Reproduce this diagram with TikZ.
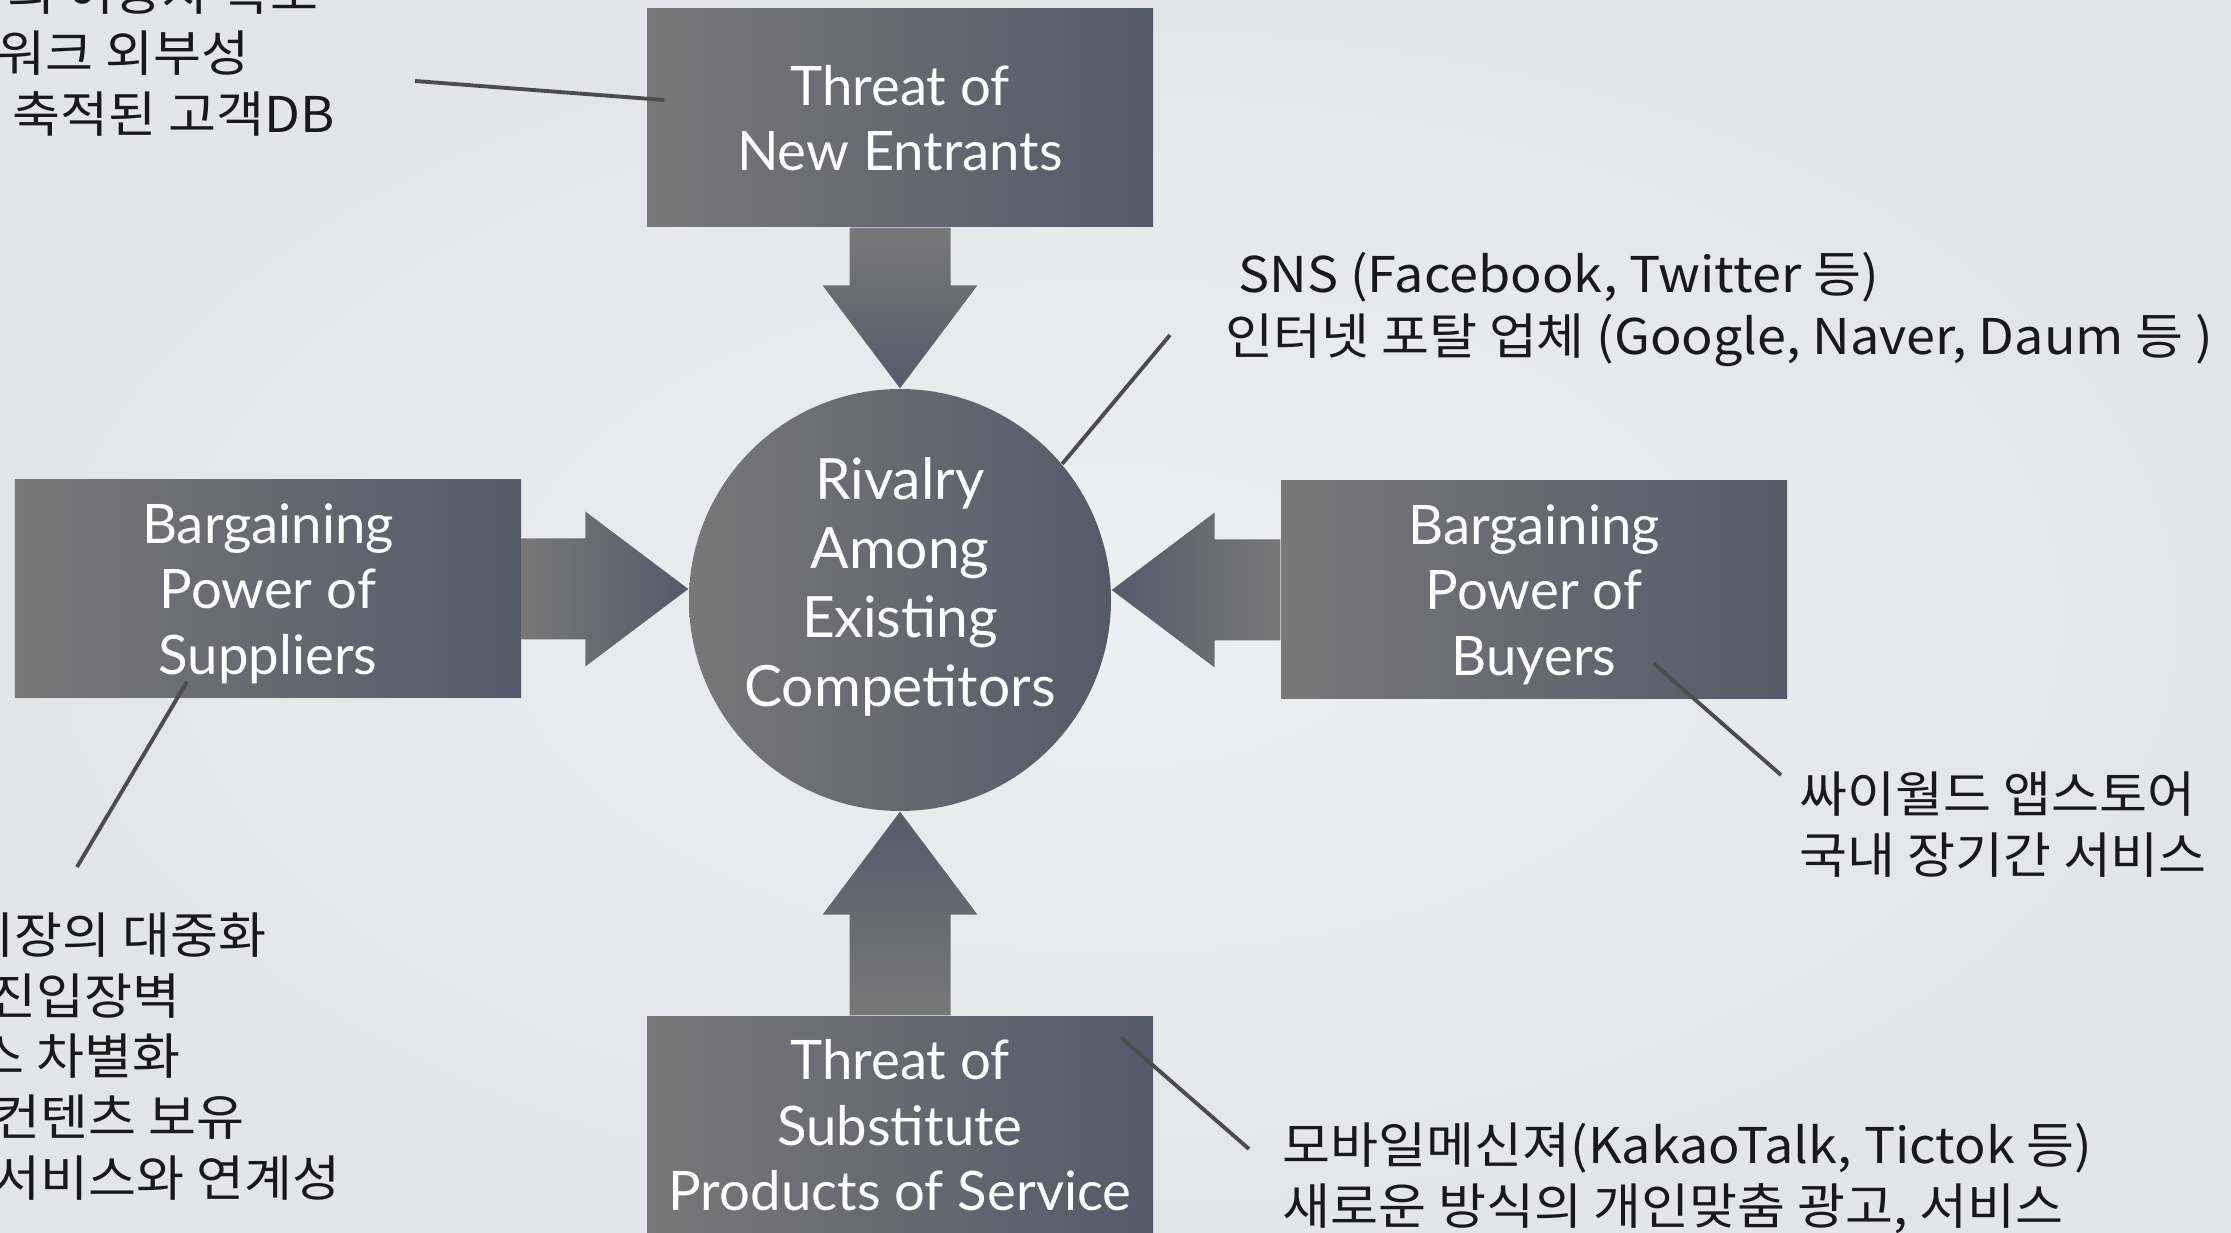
\documentclass[tikz,border=0pt]{standalone}
\usepackage{fontspec}
\setmainfont{Lato}
\newfontfamily\kofont[FakeStretch=1.06]{Noto Sans CJK KR}
\usepackage{tikz}
\usetikzlibrary{calc, positioning}

\definecolor{bgin}{HTML}{EEEFF2}
\definecolor{bgout}{HTML}{E3E5E9}
\definecolor{slatelight}{HTML}{787878}
\definecolor{slatedark}{HTML}{565969}
\definecolor{calloutgray}{HTML}{4C4C4C}

\begin{document}
\begin{tikzpicture}[
        % STYLES
        force/.style={rectangle, left color=slatelight, right color=slatedark, minimum width=5.06cm, minimum height=2.18cm, inner sep=0pt, align=center, text=white, text depth=0pt, font=\fontsize{15.5}{18.6}\selectfont},
        rivalry/.style={circle, left color=slatelight, right color=slatedark, minimum size=4.22cm, inner sep=0pt},
        rivalrytext/.style={inner sep=0pt, align=center, text=white, font=\fontsize{16.2}{19.6}\selectfont},
        note/.style={inner sep=0pt, align=left, text=black!90, font=\kofont\fontsize{14}{17.4}\selectfont},
        % ARROWS
        % Flèche pleine : tige 1.01cm, pointe 1.55cm x 1.03cm
        blockarrow/.style={to path={
            ($(\tikztostart)!0.505cm!90:(\tikztotarget)$)
            -- ($(\tikztotarget)!1.03cm!(\tikztostart)!0.505cm!90:(\tikztotarget)$)
            -- ($(\tikztotarget)!1.03cm!(\tikztostart)!0.775cm!90:(\tikztotarget)$)
            -- (\tikztotarget)
            -- ($(\tikztotarget)!1.03cm!(\tikztostart)!0.775cm!-90:(\tikztotarget)$)
            -- ($(\tikztotarget)!1.03cm!(\tikztostart)!0.505cm!-90:(\tikztotarget)$)
            -- ($(\tikztostart)!0.505cm!-90:(\tikztotarget)$) -- cycle}},
        callout/.style={calloutgray, line width=1.1pt}
    ]

    % --- Canvas ---
    \useasboundingbox (0,0) rectangle (22.31,12.32);
    \clip (0,0) rectangle (22.31,12.32);
    \shade[inner color=bgin, outer color=bgout] (0,0) rectangle (22.31,12.32);

    % ===================================
    % 1. Five Forces
    % ===================================
    \node[rivalry] (rival) at (9.00, 6.32) {};
    \node[rivalrytext] (rivaltext) at (9.00, 6.45) {Rivalry\\Among\\Existing\\Competitors};

    \node[force] (entrants) at (9.00, 11.14) {Threat of\\New Entrants};
    \node[force] (suppliers) at (2.68, 6.43) {Bargaining\\Power of\\Suppliers};
    \node[force] (buyers) at (15.34, 6.42) {Bargaining\\Power of\\Buyers};
    \node[force] (subst) at (9.00, 1.07) {Threat of\\Substitute\\Products of Service};

    % --- Arrow tips on the circle ---
    \coordinate (tipL) at (suppliers.east -| rival.west);
    \coordinate (tipR) at (buyers.west -| rival.east);

    % Flèches vers la rivalité
    \path[top color=slatelight, bottom color=slatedark] (entrants.south) to[blockarrow] (rival.north);
    \path[left color=slatelight, right color=slatedark] (suppliers.east) to[blockarrow] (tipL);
    \path[left color=slatedark, right color=slatelight] (buyers.west) to[blockarrow] (tipR);
    \path[top color=slatedark, bottom color=slatelight] (subst.north) to[blockarrow] (rival.south);

    % ===================================
    % 2. Notes
    % ===================================
    % New entrants (left part cut by the page)
    \node[note, anchor=east] (ent1) at (3.19, 12.40) {의 이용자 확보};
    \node[note, anchor=east] (ent2) at (2.50, 11.79) {워크 외부성};
    \node[note, anchor=east] (ent3) at (3.35, 11.18) {축적된 고객DB};

    % Suppliers (left part cut by the page)
    \node[note, anchor=east] (sup1) at (2.67, 2.97) {시장의 대중화};
    \node[note, anchor=east] (sup2) at (1.81, 2.36) {진입장벽};
    \node[note, anchor=east] (sup3) at (1.81, 1.76) {스 차별화};
    \node[note, anchor=east] (sup4) at (2.45, 1.15) {컨텐츠 보유};
    \node[note, anchor=east] (sup5) at (3.41, 0.54) {서비스와 연계성};

    \node[note, anchor=west] (sns) at (12.25, 9.225) {\hspace*{0.13cm}SNS (Facebook, Twitter 등)\\인터넷 포탈 업체 (Google, Naver, Daum 등 )};
    \node[note, anchor=west] (buy) at (17.99, 4.07) {싸이월드 앱스토어\\국내 장기간 서비스};
    \node[note, anchor=west] (sub) at (12.82, 0.54) {모바일메신져(KakaoTalk, Tictok 등)\\새로운 방식의 개인맞춤 광고, 서비스};

    % --- Callout lines ---
    \coordinate (cNew) at (4.15, 11.51);
    \coordinate (cSNS) at (11.70, 8.97);
    \coordinate (cSup) at (0.77, 3.65);
    \coordinate (cBuy) at (17.81, 4.57);
    \coordinate (cSub) at (12.49, 0.83);

    \draw[callout] (cNew) -- ([xshift=0.18cm, yshift=0.18cm]entrants.west);
    \draw[callout] (rival.40) -- (cSNS);
    \draw[callout] ([xshift=-0.81cm, yshift=0.17cm]suppliers.south) -- (cSup);
    \draw[callout] ([xshift=1.20cm, yshift=0.36cm]buyers.south) -- (cBuy);
    \draw[callout] ([xshift=-0.33cm, yshift=-0.22cm]subst.north east) -- (cSub);

\end{tikzpicture}
\end{document}
